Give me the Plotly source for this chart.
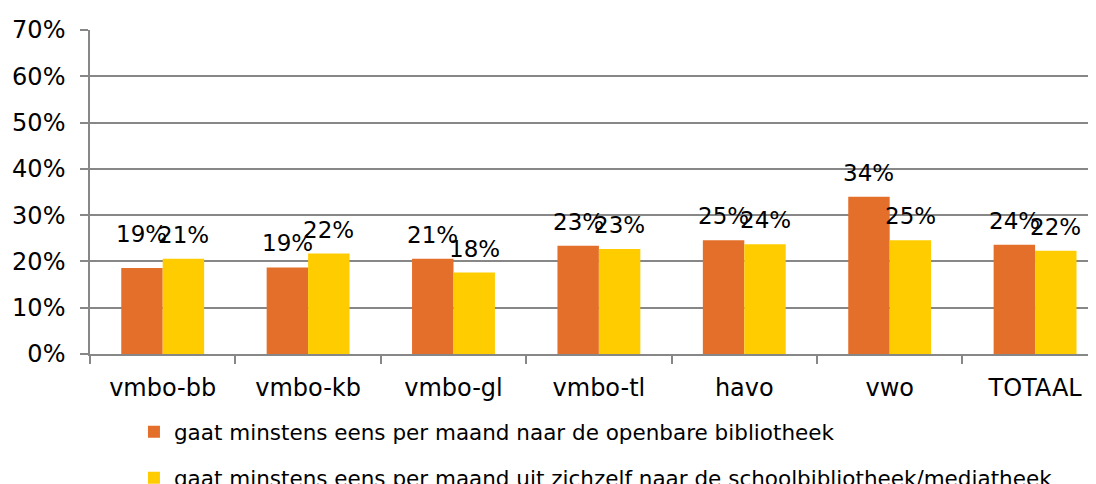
import math
import plotly.graph_objects as go

categories = ["vmbo-bb", "vmbo-kb", "vmbo-gl", "vmbo-tl", "havo", "vwo", "TOTAAL"]
openbare = [18.6, 18.7, 20.6, 23.4, 24.6, 34.0, 23.6]
school = [20.6, 21.7, 17.6, 22.7, 23.7, 24.6, 22.3]
series_names = [
    "gaat minstens eens per maand naar de openbare bibliotheek",
    "gaat minstens eens per maand uit zichzelf naar de schoolbibliotheek/mediatheek",
]
y_ticks = [0, 10, 20, 30, 40, 50, 60, 70]

ORANGE = "#E46F2A"
YELLOW = "#FFCC00"
GRID = "#878787"
FONT = "DejaVu Sans"

# page body has an 8px margin, so the figure is sized to fit the 1096x484 window
W, H = 1088, 476
ML, MR, MT, MB = 82, 0, 22, 130
BARGAP = 0.43
XR = [-0.5, 6.419]

fig = go.Figure()
for name, vals, col in [(series_names[0], openbare, ORANGE), (series_names[1], school, YELLOW)]:
    fig.add_trace(go.Bar(
        x=categories, y=vals, name=name, marker=dict(color=col, line=dict(width=0)),
        legendgroup=name,
    ))

# data labels
plot_w = W - ML - MR
cat_px = plot_w / (XR[1] - XR[0])
bar_px = cat_px * (1 - BARGAP) / 2
nudge = {(0, 0): 10}
for si, vals in enumerate([openbare, school]):
    for ci, v in enumerate(vals):
        fig.add_annotation(
            x=categories[ci], y=v, text=f"{int(math.floor(v + 0.5))}%", showarrow=False,
            xshift=(-1 if si == 0 else 1) * bar_px / 2,
            yshift=24 + nudge.get((ci, si), 0),
            yanchor="middle", xanchor="center",
            font=dict(family=FONT, size=23, color="#000000"),
        )

fig.update_layout(
    width=W, height=H,
    margin=dict(l=ML, r=MR, t=MT, b=MB, pad=0, autoexpand=False),
    paper_bgcolor="white", plot_bgcolor="white",
    barmode="group", bargap=BARGAP, bargroupgap=0,
    font=dict(family=FONT, color="#000000"),
    showlegend=True,
    legend=dict(
        x=0.0437, y=-0.177, xanchor="left", yanchor="top",
        orientation="v", traceorder="grouped", tracegroupgap=15,
        font=dict(family=FONT, size=21.5, color="#000000"),
        bgcolor="rgba(0,0,0,0)",
    ),
    xaxis=dict(
        range=XR, showgrid=False, showline=True, linecolor=GRID, linewidth=1.5,
        ticks="outside", tickson="boundaries", ticklen=8, tickcolor=GRID, tickwidth=1.5,
        tickfont=dict(family=FONT, size=24, color="#000000"), ticklabelstandoff=11,
        fixedrange=True, automargin=False,
    ),
    yaxis=dict(
        range=[0, 70], tickvals=y_ticks, ticktext=[f"{t}%" for t in y_ticks],
        showgrid=True, gridcolor=GRID, gridwidth=1.5,
        showline=True, linecolor=GRID, linewidth=1.5,
        ticks="outside", ticklen=8, tickcolor=GRID, tickwidth=1.5,
        tickfont=dict(family=FONT, size=24, color="#000000"), ticklabelstandoff=10,
        zeroline=False, fixedrange=True, automargin=False,
    ),
)

fig.write_html("out.html")
